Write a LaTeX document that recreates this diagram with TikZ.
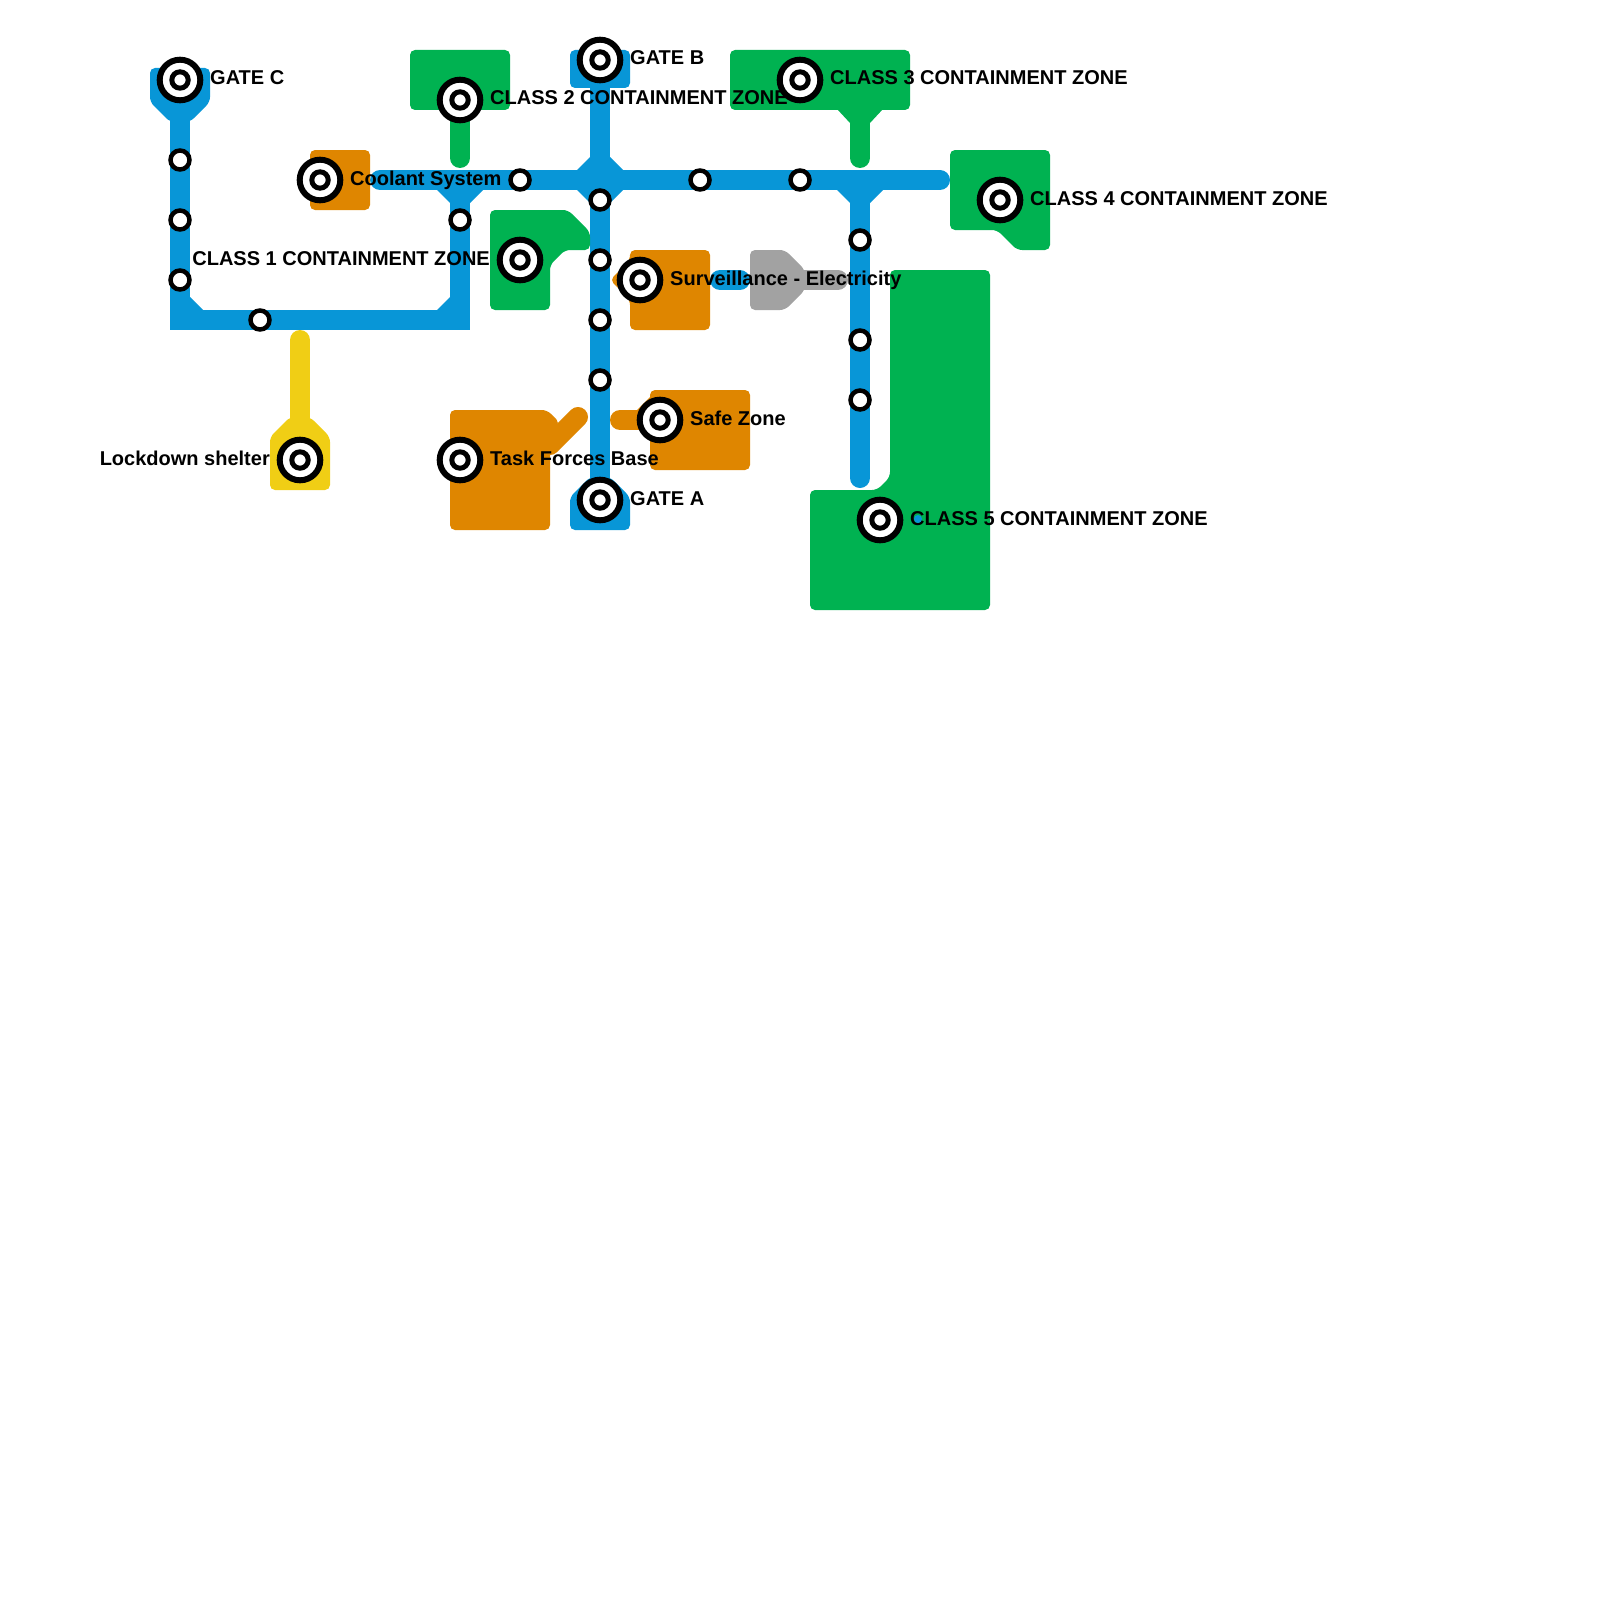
\documentclass[tikz,border=0pt]{standalone}
\usepackage{fontspec}
\setsansfont{Liberation Sans}
\usetikzlibrary{positioning}
\definecolor{tubeblue}{HTML}{0896D7}
\definecolor{zonegreen}{HTML}{00B251}
\definecolor{zoneorange}{HTML}{DF8600}
\definecolor{zoneyellow}{HTML}{F0CE15}
\definecolor{zonegrey}{HTML}{A2A2A2}
\pgfdeclarelayer{background}
\pgfsetlayers{background,main}

\begin{document}
\begin{tikzpicture}[x=1pt,y=-1pt,
		tube/.style={line width=20pt,draw=tubeblue},
		stub/.style={line width=20pt,line cap=round},
		stop node/.style={circle,draw=black,fill=white,line width=4.5pt,minimum size=19pt,inner sep=0pt},
		hub node/.style={circle,draw=black,fill=white,line width=6pt,minimum size=40.6pt,inner sep=0pt,
			path picture={\draw[black,line width=5pt] (path picture bounding box.center) circle (8.2pt);}},
		tag/.style={font=\sffamily\bfseries\fontsize{20}{24}\selectfont,inner sep=0pt,text=black}]
		\useasboundingbox (0,0) rectangle (1600,1600);
		
		% labels
		\node[tag,anchor=base west] (gateCtxt) at (210,85) {GATE C};
		\node[tag,anchor=base west] (coolanttxt) at (350,185) {Coolant System};
		\node[tag,anchor=base west] (class2txt) at (490,105) {CLASS 2 CONTAINMENT ZONE};
		\node[tag,anchor=base west] (gateBtxt) at (630,65) {GATE B};
		\node[tag,anchor=base west] (class3txt) at (830,85) {CLASS 3 CONTAINMENT ZONE};
		\node[tag,anchor=base west] (class4txt) at (1030,205) {CLASS 4 CONTAINMENT ZONE};
		\node[tag,anchor=base east] (class1txt) at (490,265) {CLASS 1 CONTAINMENT ZONE};
		\node[tag,anchor=base west] (survtxt) at (670,285) {Surveillance - Electricity};
		\node[tag,anchor=base west] (safetxt) at (690,425) {Safe Zone};
		\node[tag,anchor=base east] (locktxt) at (270,465) {Lockdown shelter};
		\node[tag,anchor=base west] (tasktxt) at (490,465) {Task Forces Base};
		\node[tag,anchor=base west] (gateAtxt) at (630,505) {GATE A};
		\node[tag,anchor=base west] (class5txt) at (910,525) {CLASS 5 CONTAINMENT ZONE};
		\fill[tubeblue] (918,519) circle (4);
		
		% interchanges
		\node[hub node] (gateC) at (180,80) {};
		\node[hub node] (coolant) at (320,180) {};
		\node[hub node] (class2) at (460,100) {};
		\node[hub node] (gateB) at (600,60) {};
		\node[hub node] (class3) at (800,80) {};
		\node[hub node] (class4) at (1000,200) {};
		\node[hub node] (class1) at (520,260) {};
		\node[hub node] (surv) at (640,280) {};
		\node[hub node] (safe) at (660,420) {};
		\node[hub node] (lockdown) at (300,460) {};
		\node[hub node] (task) at (460,460) {};
		\node[hub node] (gateA) at (600,500) {};
		\node[hub node] (class5) at (880,520) {};
		
		% stops
		\node[stop node] (w1) at (180,160) {};
		\node[stop node] (w2) at (180,220) {};
		\node[stop node] (w3) at (180,280) {};
		\node[stop node] (s1) at (260,320) {};
		\node[stop node] (e1) at (460,220) {};
		\node[stop node] (m1) at (520,180) {};
		\node[stop node] (m2) at (700,180) {};
		\node[stop node] (m3) at (800,180) {};
		\node[stop node] (v1) at (600,200) {};
		\node[stop node] (v2) at (600,260) {};
		\node[stop node] (v3) at (600,320) {};
		\node[stop node] (v4) at (600,380) {};
		\node[stop node] (r1) at (860,240) {};
		\node[stop node] (r2) at (860,340) {};
		\node[stop node] (r3) at (860,400) {};
		
		\coordinate (sw) at (180,320);
		\coordinate (se) at (460,320);
		\coordinate (ne) at (460,180);
		\coordinate (mainW) at (380,180);
		\coordinate (mainE) at (940,180);
		\coordinate (rtop) at (860,180);
		\coordinate (rend) at (860,478);
		
		\begin{pgfonlayer}{background}
		% blue lines
		\draw[tube] (gateC.center) -- (w1.center) -- (w2.center) -- (w3.center) -- (sw) -- (s1.center) -- (se) -- (e1.center) -- (ne);
		\draw[tube,line cap=round] (mainW) -- (m1.center) -- (m2.center) -- (m3.center) -- (mainE);
		\draw[tube] (gateB.center) -- (v1.center) -- (v2.center) -- (v3.center) -- (v4.center) -- (gateA.center);
		\draw[tube,line cap=round] (rtop) -- (r1.center) -- (r2.center) -- (r3.center) -- (rend);
		\draw[stub,tubeblue] (720,280) -- (740,280);
		\fill[tubeblue] (590,157) -- (610,157) -- (623,170) -- (623,190) -- (610,203) -- (590,203) -- (577,190) -- (577,170) -- cycle;
		\fill[tubeblue] (437,190) -- (483,190) -- (470,203) -- (450,203) -- cycle;
		\fill[tubeblue] (837,190) -- (883,190) -- (870,203) -- (850,203) -- cycle;
		\fill[tubeblue] (190,297) -- (190,310) -- (203,310) -- cycle;
		\fill[tubeblue] (437,310) -- (450,310) -- (450,297) -- cycle;
		\fill[tubeblue,rounded corners=5pt] (150,68) -- (210,68) -- (210,102) -- (190,122) -- (170,122) -- (150,102) -- cycle;
		\fill[tubeblue,rounded corners=5pt] (570,50) rectangle (630,88);
		\fill[tubeblue,rounded corners=5pt] (590,477) -- (610,477) -- (630,497) -- (630,530) -- (570,530) -- (570,497) -- cycle;
		
		% green zones
		\fill[zonegreen,rounded corners=5pt] (410,50) rectangle (510,110);
		\draw[stub,zonegreen] (460,105) -- (460,158);
		\fill[zonegreen,rounded corners=5pt] (730,50) rectangle (910,110);
		\fill[zonegreen] (837,109) -- (883,109) -- (870,123) -- (850,123) -- cycle;
		\draw[stub,zonegreen] (860,115) -- (860,158);
		\fill[zonegreen,rounded corners=5pt] (490,210) -- (568,210) -- (590,232) -- (590,250) -- (565,250) -- (550,265) -- (550,310) -- (490,310) -- cycle;
		\fill[zonegreen,rounded corners=5pt] (950,150) -- (1050,150) -- (1050,250) -- (1017,250) -- (997,230) -- (950,230) -- cycle;
		\fill[zonegreen,rounded corners=5pt] (890,270) -- (990,270) -- (990,610) -- (810,610) -- (810,490) -- (877,490) -- (890,477) -- cycle;
		
		% orange zones
		\fill[zoneorange,rounded corners=5pt] (310,150) rectangle (370,210);
		\fill[zoneorange,rounded corners=5pt] (630,250) -- (710,250) -- (710,330) -- (630,330) -- (630,300) -- (610,280) -- (630,260) -- cycle;
		\fill[zoneorange,rounded corners=5pt] (650,390) rectangle (750,470);
		\fill[zoneorange] (637,410) -- (655,392) -- (655,410) -- cycle;
		\draw[stub,zoneorange] (620,420) -- (655,420);
		\fill[zoneorange,rounded corners=5pt] (450,410) -- (547,410) -- (560,423) -- (550,433) -- (550,530) -- (450,530) -- cycle;
		\draw[stub,zoneorange] (550,445) -- (578,417);
		
		% yellow and grey
		\draw[stub,zoneyellow] (300,340) -- (300,425);
		\fill[zoneyellow,rounded corners=5pt] (290,417) -- (310,417) -- (330,437) -- (330,490) -- (270,490) -- (270,437) -- cycle;
		\fill[zonegrey,rounded corners=5pt] (750,250) -- (785,250) -- (805,270) -- (805,290) -- (785,310) -- (750,310) -- cycle;
		\draw[stub,zonegrey] (800,280) -- (838,280);
		\end{pgfonlayer}
\end{tikzpicture}
\end{document}
